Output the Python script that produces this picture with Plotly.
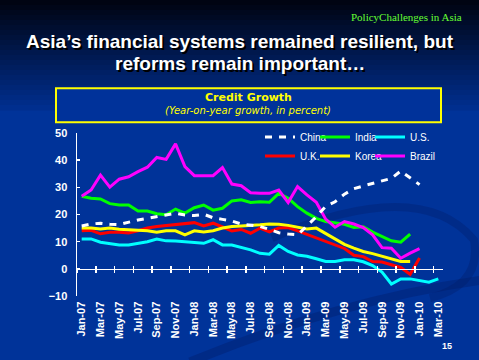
import plotly.graph_objects as go

# ---------------- data ----------------
months = ["Jan-07", "Feb-07", "Mar-07", "Apr-07", "May-07", "Jun-07", "Jul-07", "Aug-07", "Sep-07", "Oct-07", "Nov-07", "Dec-07",
          "Jan-08", "Feb-08", "Mar-08", "Apr-08", "May-08", "Jun-08", "Jul-08", "Aug-08", "Sep-08", "Oct-08", "Nov-08", "Dec-08",
          "Jan-09", "Feb-09", "Mar-09", "Apr-09", "May-09", "Jun-09", "Jul-09", "Aug-09", "Sep-09", "Oct-09", "Nov-09", "Dec-09",
          "Jan-10", "Feb-10", "Mar-10"]

china = [15.8, 16.5, 16.8, 16.4, 16.3, 17.2, 18.0, 18.6, 19.2, 19.8, 20.5, 19.8,
         19.6, 20.1, 18.8, 18.2, 17.6, 16.5, 16.0, 15.6, 14.5, 13.3, 12.8, 12.5,
         15.8, 19.2, 23.0, 24.7, 27.5, 29.5, 30.5, 31.5, 32.3, 33.3, 36.0, 33.5, 31.0]
india = [26.7, 26.0, 25.7, 24.0, 23.5, 23.5, 21.3, 21.3, 20.3, 19.9, 22.0, 20.5,
         22.5, 23.5, 21.6, 22.3, 25.0, 25.4, 24.4, 24.7, 24.5, 27.8, 26.0, 22.9,
         20.5, 18.6, 17.4, 16.8, 16.4, 15.2, 15.5, 13.5, 11.9, 10.3, 9.8, 12.8]
us = [11.0, 11.0, 9.8, 9.4, 8.8, 8.8, 9.3, 10.0, 11.0, 10.3, 10.2, 10.0,
      9.7, 9.4, 10.7, 8.8, 8.8, 8.0, 7.0, 5.7, 5.4, 8.6, 6.4, 5.1,
      4.6, 3.7, 2.7, 2.7, 3.3, 3.3, 2.6, 1.2, -1.2, -5.6, -3.7, -3.7,
      -4.4, -4.9, -3.7]
uk = [14.0, 14.2, 12.9, 13.5, 13.5, 13.2, 14.0, 15.0, 15.6, 15.9, 16.2, 16.5,
      17.0, 15.8, 16.8, 15.4, 13.9, 14.5, 13.1, 15.0, 13.6, 15.0, 15.2, 14.0,
      12.7, 11.5, 10.0, 8.8, 7.5, 5.0, 4.5, 2.7, 2.5, 1.5, 0.5, -2.0, 4.0]
korea = [15.0, 15.0, 14.7, 15.0, 14.6, 14.3, 14.2, 14.0, 13.5, 14.0, 14.0, 12.5,
         14.0, 13.6, 14.0, 15.0, 15.6, 15.8, 15.9, 16.2, 16.5, 16.4, 16.0, 15.3,
         14.7, 15.0, 13.0, 10.8, 9.0, 7.6, 6.4, 5.6, 4.6, 3.6, 2.7, 2.7]
brazil = [26.7, 29.0, 34.5, 30.1, 33.0, 33.9, 35.8, 37.4, 41.0, 40.3, 46.0, 37.6,
          34.3, 34.3, 34.3, 37.3, 31.2, 30.6, 28.0, 27.8, 27.8, 29.0, 24.4, 30.3,
          27.2, 24.5, 18.3, 15.3, 17.4, 16.5, 15.2, 12.5, 7.8, 7.6, 3.9, 5.8, 7.4]

y_ticks = [-10, 0, 10, 20, 30, 40, 50]

# ---------------- layout geometry ----------------
W, H = 479, 360
ML, MR, MT, MB = 77, 36, 133, 64
PW = W - ML - MR
PH = H - MT - MB
Y_MIN, Y_MAX = -10, 50


def px_x(px):
    return (px - ML) / PW


def px_y(py):
    return (H - MB - py) / PH


BG = "#003399"

fig = go.Figure()

# draw order (China on top), legend order via legendrank
series = [
    ("India", india, "#00ff00", "solid", "legend", 2, None),
    ("U.S.", us, "#00ffff", "solid", "legend", 3, 40),
    ("U.K.", uk, "#ff0000", "solid", "legend2", 4, None),
    ("Korea", korea, "#ffff00", "solid", "legend2", 5, None),
    ("Brazil", brazil, "#ff00ff", "solid", "legend2", 6, 40),
    ("China", china, "#ffffff", "7px,7px", "legend", 1, None),
]
for name, vals, color, dash, leg, rank, lw in series:
    kw = {}
    if lw:
        kw["legendwidth"] = lw
    fig.add_trace(go.Scatter(
        x=months[:len(vals)], y=vals, name=name, mode="lines",
        line=dict(color=color, width=3, dash=dash),
        legend=leg, legendrank=rank, hoverinfo="skip", **kw
    ))

# empty trace to carry the inner tick marks axis
fig.add_trace(go.Scatter(x=[], y=[], xaxis="x2", showlegend=False, hoverinfo="skip"))

zero_pos = (0 - Y_MIN) / (Y_MAX - Y_MIN)
tickfont = dict(family="Liberation Sans, Arial", size=11, color="white", weight="bold")

shapes = []
# background gradient at the top of the slide
top = (0, 4, 18)
bot = (0, 46, 142)
n = 22
for k in range(n):
    t = k / (n - 1)
    c = tuple(int(round(top[j] + (bot[j] - top[j]) * t)) for j in range(3))
    shapes.append(dict(type="rect", xref="paper", yref="paper", layer="below",
                       x0=px_x(0), x1=px_x(W), y0=px_y(5 * k + 5.5), y1=px_y(5 * k),
                       fillcolor="rgb(%d,%d,%d)" % c, line=dict(width=0)))
# faint swooshes
shapes.append(dict(type="path", xref="paper", yref="paper", layer="below",
                   path="M %f,%f Q %f,%f %f,%f" % (px_x(190), px_y(362), px_x(340), px_y(300), px_x(482), px_y(280)),
                   line=dict(color="rgba(0,25,100,0.35)", width=9)))
shapes.append(dict(type="path", xref="paper", yref="paper", layer="below",
                   path="M %f,%f Q %f,%f %f,%f Q %f,%f %f,%f" % (
                       px_x(272), px_y(238), px_x(420), px_y(175), px_x(474), px_y(240),
                       px_x(482), px_y(285), px_x(430), px_y(298)),
                   line=dict(color="rgba(0,25,100,0.30)", width=8)))
# title box
shapes.append(dict(type="rect", xref="paper", yref="paper",
                   x0=px_x(56), x1=px_x(441), y0=px_y(122.3), y1=px_y(88.3),
                   fillcolor="#00329a", line=dict(color="#ffff00", width=2)))

annotations = [
    dict(text="PolicyChallenges in Asia", x=px_x(464), y=px_y(17), xanchor="right", yanchor="middle",
         font=dict(family="Liberation Serif, Times New Roman", size=11, color="#66ff33")),
    dict(text="Asia\u2019s financial systems remained resilient, but", x=px_x(240), y=px_y(42),
         xanchor="center", yanchor="middle",
         font=dict(family="Liberation Sans, Arial", size=19, color="white", weight="bold",
                   shadow="2px 2px 0px #000000")),
    dict(text="reforms remain important\u2026", x=px_x(240), y=px_y(63),
         xanchor="center", yanchor="middle",
         font=dict(family="Liberation Sans, Arial", size=19, color="white", weight="bold",
                   shadow="2px 2px 0px #000000")),
    dict(text="Credit Growth", x=px_x(248), y=px_y(97.5), xanchor="center", yanchor="middle",
         font=dict(family="DejaVu Sans", size=11, color="#ffff00", weight="bold")),
    dict(text="<i>(Year-on-year growth, in percent)</i>", x=px_x(248), y=px_y(111), xanchor="center",
         yanchor="middle", font=dict(family="DejaVu Sans", size=10, color="#ffff00")),
    dict(text="15", x=px_x(447), y=px_y(346), xanchor="center", yanchor="middle",
         font=dict(family="Liberation Sans, Arial", size=9, color="white", weight="bold")),
]
for a in annotations:
    a.update(xref="paper", yref="paper", showarrow=False)

legend_common = dict(orientation="h", entrywidth=10, entrywidthmode="pixels", itemwidth=30,
                     bgcolor="rgba(0,0,0,0)", borderwidth=0, xanchor="left", yanchor="middle",
                     font=dict(family="Liberation Sans, Arial", size=10, color="white"),
                     traceorder="normal", tracegroupgap=0)

fig.update_layout(
    width=W, height=H,
    margin=dict(l=ML, r=MR, t=MT, b=MB, pad=0),
    paper_bgcolor=BG, plot_bgcolor="rgba(0,0,0,0)",
    showlegend=True,
    legend=dict(x=px_x(260), y=px_y(137), **legend_common),
    legend2=dict(x=px_x(260), y=px_y(156), **legend_common),
    xaxis=dict(type="category", categoryorder="array", categoryarray=months,
               range=[-0.5, len(months) - 0.5], anchor="free", position=zero_pos,
               showline=True, linecolor="white", linewidth=1.5,
               ticks="outside", ticklen=3, tickwidth=1.5, tickcolor="white",
               tickson="boundaries", tickmode="linear", tick0=0, dtick=2,
               tickangle=-90, tickfont=tickfont, ticklabelstandoff=27,
               showgrid=False, zeroline=False, fixedrange=True),
    xaxis2=dict(type="category", categoryorder="array", categoryarray=months,
                matches="x", overlaying="x", anchor="free", position=zero_pos,
                showline=False, ticks="inside", ticklen=3, tickwidth=1.5, tickcolor="white",
                tickson="boundaries", tickmode="linear", tick0=0, dtick=2,
                showticklabels=False, showgrid=False, zeroline=False, fixedrange=True),
    yaxis=dict(range=[Y_MIN, Y_MAX], tickmode="array", tickvals=y_ticks,
               showline=True, linecolor="white", linewidth=1.5,
               ticks="inside", ticklen=3, tickwidth=1.5, tickcolor="white",
               tickfont=tickfont, ticklabelstandoff=6,
               showgrid=False, zeroline=False, fixedrange=True),
    shapes=shapes,
    annotations=annotations,
)

fig.write_html("out.html",
               config={"displayModeBar": False, "staticPlot": True},
               post_script="document.body.style.margin='0px';document.body.style.padding='0px';"
                           "document.body.style.overflow='hidden';document.body.style.background='%s';" % BG)
